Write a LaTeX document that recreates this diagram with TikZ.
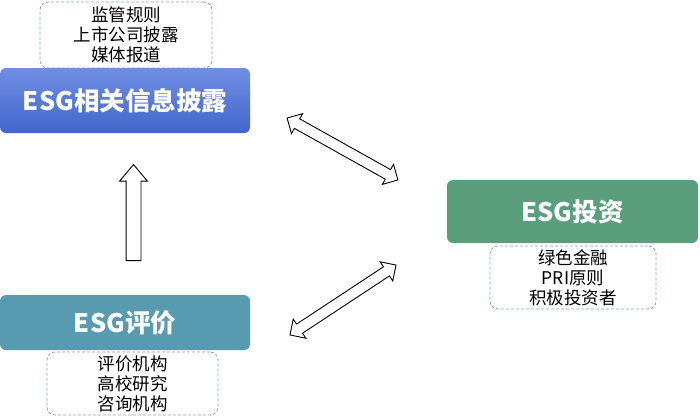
\documentclass[tikz,border=0pt]{standalone}
\usepackage{fontspec}
\setmainfont{Noto Sans CJK SC}
\usetikzlibrary{shapes.arrows}
\definecolor{blueT}{RGB}{112,142,226}
\definecolor{blueB}{RGB}{66,102,204}
\definecolor{greenBox}{RGB}{90,158,126}
\definecolor{tealBox}{RGB}{88,154,176}
\definecolor{dashC}{RGB}{130,160,220}
\tikzset{
  mainbox/.style={rounded corners=6pt, inner sep=0pt, text=white, font=\fontsize{25.5}{28}\selectfont\bfseries},
  subbox/.style={draw=dashC, line width=0.8pt, dash pattern=on 3pt off 2pt, rounded corners=8pt, inner sep=0pt, align=center, font=\fontsize{17.5}{20}\selectfont},
  dblarrow/.style={draw=black, fill=white, double arrow, line width=0.9pt, inner xsep=0pt, inner ysep=5pt, minimum width=22pt, double arrow head extend=6pt, minimum height=127pt},
  uparrow/.style={draw=black, fill=white, single arrow, line width=0.9pt, inner xsep=0pt, inner ysep=7pt, minimum width=27pt, single arrow head extend=6.5pt, single arrow tip angle=80, minimum height=96pt, rotate=90}
}
\begin{document}
\begin{tikzpicture}[x=1pt,y=-1pt]
\useasboundingbox (0,0) rectangle (700,418);
% sub boxes
\node[subbox, minimum width=172pt, minimum height=66pt] (s1) at (126,35) {监管规则\\上市公司披露\\媒体报道};
\node[subbox, minimum width=166pt, minimum height=63pt] (s2) at (573,277.5) {绿色金融\\PRI原则\\积极投资者};
\node[subbox, minimum width=171pt, minimum height=63pt] (s3) at (132.5,383.5) {评价机构\\高校研究\\咨询机构};
% main boxes
\node[mainbox, top color=blueT, bottom color=blueB, minimum width=250pt, minimum height=65pt] (b1) at (125,100.5) {ESG相关信息披露};
\node[mainbox, fill=greenBox, minimum width=251pt, minimum height=63pt] (b2) at (572.5,211.5) {ESG投资};
\node[mainbox, fill=tealBox, minimum width=250pt, minimum height=55pt] (b3) at (125,322.5) {ESG评价};
% arrows
\node[uparrow] (a0) at (133.5,217) {};
\node[dblarrow, rotate=-29.2] (a1) at (342.5,149) {};
\node[dblarrow, rotate=33.4] (a2) at (343,300) {};
\end{tikzpicture}
\end{document}
